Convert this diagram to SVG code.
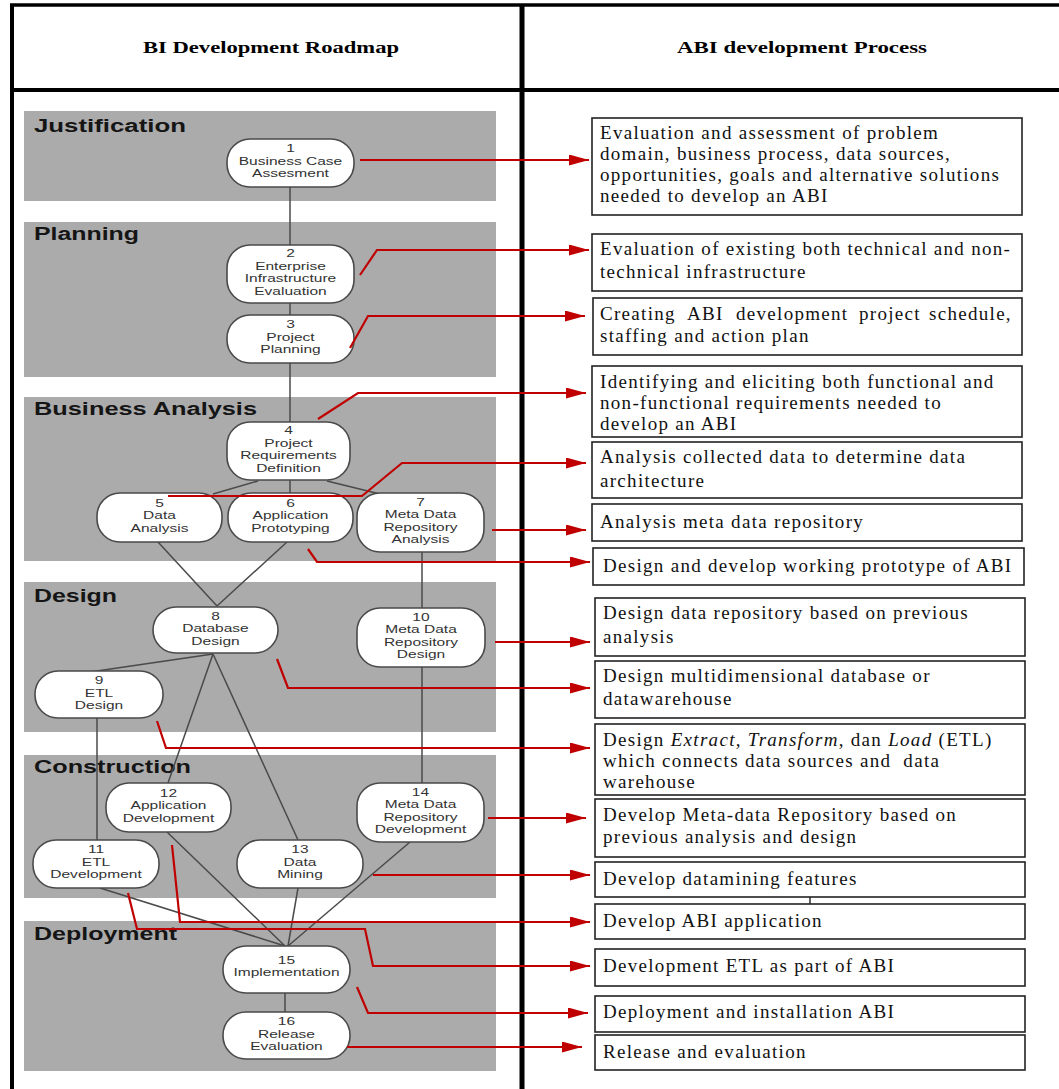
<svg xmlns="http://www.w3.org/2000/svg" width="1059" height="1089" viewBox="0 0 1059 1089">
<style>
.frame{stroke:#000;fill:none}
.band{fill:#ababab}
.btitle{font-family:"Liberation Sans",Arial,sans-serif;font-weight:bold;font-size:17.5px;fill:#151515}
.node rect{fill:#fff;stroke:#4a4a4a;stroke-width:1.6}
.nt{font-family:"Liberation Sans",Arial,sans-serif;font-size:11.5px;fill:#333;text-anchor:middle}
.gl{stroke:#4a4a4a;stroke-width:1.5;fill:none}
.red{stroke:#c00000;stroke-width:2.2;fill:none;marker-end:url(#ah)}
.box rect{fill:#fff;stroke:#222;stroke-width:1.6}
.bt{font-family:"Liberation Serif","Times New Roman",serif;font-size:19px;fill:#111;letter-spacing:1.3px}
.hd{font-family:"Liberation Serif","Times New Roman",serif;font-weight:bold;font-size:17px;fill:#000;text-anchor:middle}
</style>
<defs>
<marker id="ah" markerUnits="userSpaceOnUse" markerWidth="20" markerHeight="11" refX="20" refY="5.5" orient="auto">
<path d="M0,0 L20,5.5 L0,11 Z" fill="#c00000"/>
</marker>
</defs>
<rect width="1059" height="1089" fill="#fff"/>
<g id="table">
<line class="frame" x1="10" y1="5" x2="1059" y2="5" stroke-width="3.5"/>
<line class="frame" x1="12" y1="4" x2="12" y2="1089" stroke-width="4"/>
<line class="frame" x1="522" y1="4" x2="522" y2="1089" stroke-width="5"/>
<line class="frame" x1="10" y1="90" x2="1059" y2="90" stroke-width="4"/>
<text class="hd" x="271" y="53" textLength="256" lengthAdjust="spacingAndGlyphs">BI Development Roadmap</text>
<text class="hd" x="802" y="53" textLength="250" lengthAdjust="spacingAndGlyphs">ABI development Process</text>
</g>
<g id="bands">
<rect class="band" x="24" y="111" width="472" height="90"/>
<rect class="band" x="24" y="222" width="472" height="155"/>
<rect class="band" x="24" y="397" width="472" height="164"/>
<rect class="band" x="24" y="582" width="472" height="150"/>
<rect class="band" x="24" y="755" width="472" height="143"/>
<rect class="band" x="24" y="921" width="472" height="150"/>
<text class="btitle" x="34" y="132" textLength="152" lengthAdjust="spacingAndGlyphs">Justification</text>
<text class="btitle" x="34" y="240" textLength="105" lengthAdjust="spacingAndGlyphs">Planning</text>
<text class="btitle" x="34" y="415" textLength="223" lengthAdjust="spacingAndGlyphs">Business Analysis</text>
<text class="btitle" x="34" y="602" textLength="83" lengthAdjust="spacingAndGlyphs">Design</text>
<text class="btitle" x="34" y="773" textLength="157" lengthAdjust="spacingAndGlyphs">Construction</text>
<text class="btitle" x="34" y="940" textLength="143" lengthAdjust="spacingAndGlyphs">Deployment</text>
</g>
<g id="links">
<path class="gl" d="M290,187 V245"/>
<path class="gl" d="M290,303 V315"/>
<path class="gl" d="M290,363 V422"/>
<path class="gl" d="M258,481 L213,494"/>
<path class="gl" d="M290,480 V493"/>
<path class="gl" d="M327,481 L380,494"/>
<path class="gl" d="M158,542 L217,606"/>
<path class="gl" d="M287,542 L217,606"/>
<path class="gl" d="M422,552 V608"/>
<path class="gl" d="M213,654 L90,672"/>
<path class="gl" d="M213,654 L168,783"/>
<path class="gl" d="M213,654 L298,840"/>
<path class="gl" d="M97,718 V840"/>
<path class="gl" d="M422,667 V783"/>
<path class="gl" d="M100,888 L285,946"/>
<path class="gl" d="M167,832 L285,946"/>
<path class="gl" d="M298,888 L288,946"/>
<path class="gl" d="M410,842 L288,946"/>
<path class="gl" d="M285,993 V1012"/>
</g>
<g id="n1" class="node"><rect x="227" y="139" width="127" height="48" rx="23"/><g class="nt" transform="translate(290.5,0) scale(1.35,1)"><text x="0" y="152.5">1</text><text x="0" y="165">Business Case</text><text x="0" y="177.5">Assesment</text></g></g>
<g id="n2" class="node"><rect x="227" y="245" width="127" height="58" rx="23"/><g class="nt" transform="translate(290.5,0) scale(1.35,1)"><text x="0" y="257.5">2</text><text x="0" y="270">Enterprise</text><text x="0" y="282.5">Infrastructure</text><text x="0" y="295">Evaluation</text></g></g>
<g id="n3" class="node"><rect x="227" y="315" width="127" height="48" rx="23"/><g class="nt" transform="translate(290.5,0) scale(1.35,1)"><text x="0" y="328.5">3</text><text x="0" y="341">Project</text><text x="0" y="353.5">Planning</text></g></g>
<g id="n4" class="node"><rect x="227" y="422" width="123" height="58" rx="23"/><g class="nt" transform="translate(288.5,0) scale(1.35,1)"><text x="0" y="434.5">4</text><text x="0" y="447">Project</text><text x="0" y="459.5">Requirements</text><text x="0" y="472">Definition</text></g></g>
<g id="n5" class="node"><rect x="97" y="493" width="125" height="49" rx="23"/><g class="nt" transform="translate(159.5,0) scale(1.35,1)"><text x="0" y="507">5</text><text x="0" y="519.5">Data</text><text x="0" y="532">Analysis</text></g></g>
<g id="n6" class="node"><rect x="228" y="493" width="125" height="49" rx="23"/><g class="nt" transform="translate(290.5,0) scale(1.35,1)"><text x="0" y="507">6</text><text x="0" y="519.5">Application</text><text x="0" y="532">Prototyping</text></g></g>
<g id="n7" class="node"><rect x="357" y="493" width="127" height="59" rx="23"/><g class="nt" transform="translate(420.5,0) scale(1.35,1)"><text x="0" y="506">7</text><text x="0" y="518.5">Meta Data</text><text x="0" y="531">Repository</text><text x="0" y="543.5">Analysis</text></g></g>
<g id="n8" class="node"><rect x="153" y="607" width="125" height="46" rx="23"/><g class="nt" transform="translate(215.5,0) scale(1.35,1)"><text x="0" y="620">8</text><text x="0" y="632.5">Database</text><text x="0" y="645">Design</text></g></g>
<g id="n9" class="node"><rect x="35" y="671" width="128" height="47" rx="23"/><g class="nt" transform="translate(99,0) scale(1.35,1)"><text x="0" y="684.5">9</text><text x="0" y="697">ETL</text><text x="0" y="709.5">Design</text></g></g>
<g id="n10" class="node"><rect x="357" y="608" width="128" height="59" rx="23"/><g class="nt" transform="translate(421,0) scale(1.35,1)"><text x="0" y="621">10</text><text x="0" y="633.5">Meta Data</text><text x="0" y="646">Repository</text><text x="0" y="658.5">Design</text></g></g>
<g id="n11" class="node"><rect x="33" y="840" width="126" height="48" rx="23"/><g class="nt" transform="translate(96,0) scale(1.35,1)"><text x="0" y="853.5">11</text><text x="0" y="866">ETL</text><text x="0" y="878.5">Development</text></g></g>
<g id="n12" class="node"><rect x="106" y="783" width="125" height="49" rx="23"/><g class="nt" transform="translate(168.5,0) scale(1.35,1)"><text x="0" y="797">12</text><text x="0" y="809.5">Application</text><text x="0" y="822">Development</text></g></g>
<g id="n13" class="node"><rect x="237" y="840" width="126" height="48" rx="23"/><g class="nt" transform="translate(300,0) scale(1.35,1)"><text x="0" y="853.5">13</text><text x="0" y="866">Data</text><text x="0" y="878.5">Mining</text></g></g>
<g id="n14" class="node"><rect x="357" y="783" width="127" height="59" rx="23"/><g class="nt" transform="translate(420.5,0) scale(1.35,1)"><text x="0" y="796">14</text><text x="0" y="808.5">Meta Data</text><text x="0" y="821">Repository</text><text x="0" y="833.5">Development</text></g></g>
<g id="n15" class="node"><rect x="223" y="946" width="127" height="47" rx="23"/><g class="nt" transform="translate(286.5,0) scale(1.35,1)"><text x="0" y="964">15</text><text x="0" y="976.5">Implementation</text></g></g>
<g id="n16" class="node"><rect x="223" y="1012" width="127" height="47" rx="23"/><g class="nt" transform="translate(286.5,0) scale(1.35,1)"><text x="0" y="1025.5">16</text><text x="0" y="1038">Release</text><text x="0" y="1050.5">Evaluation</text></g></g>
<g id="b1" class="box"><rect x="592" y="118" width="430" height="97"/><text class="bt" x="600" y="139">Evaluation and assessment of problem</text><text class="bt" x="600" y="160">domain, business process, data sources,</text><text class="bt" x="600" y="181">opportunities, goals and alternative solutions</text><text class="bt" x="600" y="202">needed to develop an ABI</text></g>
<g id="b2" class="box"><rect x="592" y="234" width="430" height="57"/><text class="bt" x="600" y="255">Evaluation of existing both technical and non-</text><text class="bt" x="600" y="278">technical infrastructure</text></g>
<g id="b3" class="box"><rect x="593" y="298" width="429" height="57"/><text class="bt" y="320"><tspan x="600">Creating</tspan><tspan x="687">ABI</tspan><tspan x="736">development</tspan><tspan x="859">project</tspan><tspan x="929">schedule,</tspan></text><text class="bt" x="600" y="342">staffing and action plan</text></g>
<g id="b4" class="box"><rect x="592" y="366" width="430" height="71"/><text class="bt" x="600" y="388">Identifying and eliciting both functional and</text><text class="bt" x="600" y="409">non-functional requirements needed to</text><text class="bt" x="600" y="430">develop an ABI</text></g>
<g id="b5" class="box"><rect x="592" y="442" width="430" height="56"/><text class="bt" x="600" y="463">Analysis collected data to determine data</text><text class="bt" x="600" y="487">architecture</text></g>
<g id="b6" class="box"><rect x="592" y="504" width="430" height="37"/><text class="bt" x="600" y="528">Analysis meta data repository</text></g>
<g id="b7" class="box"><rect x="593" y="548" width="431" height="37"/><text class="bt" x="603" y="572">Design and develop working prototype of ABI</text></g>
<g id="b8" class="box"><rect x="595" y="598" width="430" height="58"/><text class="bt" x="603" y="619">Design data repository based on previous</text><text class="bt" x="603" y="643">analysis</text></g>
<g id="b9" class="box"><rect x="595" y="661" width="430" height="57"/><text class="bt" x="603" y="682">Design multidimensional database or</text><text class="bt" x="603" y="705">datawarehouse</text></g>
<g id="b10" class="box"><rect x="595" y="724" width="430" height="71"/><text class="bt" x="603" y="746">Design <tspan font-style="italic">Extract, Transform</tspan>, dan <tspan font-style="italic">Load</tspan> (ETL)</text><text class="bt" x="603" y="767" xml:space="preserve">which connects data sources and  data</text><text class="bt" x="603" y="788">warehouse</text></g>
<g id="b11" class="box"><rect x="595" y="799" width="430" height="58"/><text class="bt" x="603" y="821">Develop Meta-data Repository based on</text><text class="bt" x="603" y="843">previous analysis and design</text></g>
<g id="b12" class="box"><rect x="595" y="862" width="430" height="35"/><text class="bt" x="603" y="885">Develop datamining features</text></g>
<line x1="810" y1="897" x2="810" y2="904" stroke="#222" stroke-width="1.4"/>
<g id="b13" class="box"><rect x="595" y="904" width="430" height="35"/><text class="bt" x="603" y="927">Develop ABI application</text></g>
<g id="b14" class="box"><rect x="595" y="949" width="430" height="37"/><text class="bt" x="603" y="972">Development ETL as part of ABI</text></g>
<g id="b15" class="box"><rect x="595" y="996" width="430" height="36"/><text class="bt" x="603" y="1018">Deployment and installation ABI</text></g>
<g id="b16" class="box"><rect x="595" y="1035" width="430" height="35"/><text class="bt" x="603" y="1058">Release and evaluation</text></g>
<g id="connectors">
<path class="red" d="M360,160 H589"/>
<path class="red" d="M360,275 L377,250 H589"/>
<path class="red" d="M350,348 L368,316 H585"/>
<path class="red" d="M318,419 L358,393 H586"/>
<path class="red" d="M168,496 H362 L402,463 H586"/>
<path class="red" d="M492,530 H586"/>
<path class="red" d="M308,549 L317,562 H590"/>
<path class="red" d="M495,642 H590"/>
<path class="red" d="M277,659 L288,688 H590"/>
<path class="red" d="M157,721 L166,748 H590"/>
<path class="red" d="M488,818 H586"/>
<path class="red" d="M373,875 H590"/>
<path class="red" d="M172,845 L180,922 H590"/>
<path class="red" d="M128,893 L137,929 H365 L373,966 H590"/>
<path class="red" d="M357,987 L368,1013 H588"/>
<path class="red" d="M347,1047 H582"/>
</g>
</svg>
